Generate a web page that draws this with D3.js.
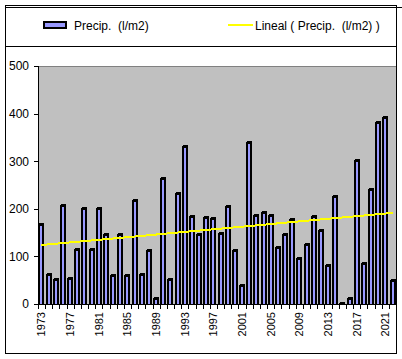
<!DOCTYPE html>
<html>
<head>
<meta charset="utf-8">
<script src="https://cdn.jsdelivr.net/npm/d3@7"></script>
<style>
  body { margin: 0; background: #fff; }
  svg { display: block; font-family: "Liberation Sans", Arial, sans-serif; }
</style>
</head>
<body>
<div id="container"></div>
<script>
/**
 * CONSTANTS AND GLOBALS
 * */
const width = 402,
  height = 359,
  plot = {left: 38, right: 396, top: 66, bottom: 304};

/**
 * DATA
 * */
const years = d3.range(1973, 2023);
const precip = [
  171, 66, 55, 210, 57, 117, 203, 117, 203, 149,
  64, 149, 64, 220, 66, 115, 15, 266, 54, 235,
  335, 186, 150, 184, 182, 151, 209, 115, 41, 342,
  190, 195, 190, 121, 150, 180, 98, 128, 186, 157,
  83, 228, 5, 14, 304, 88, 244, 384, 394, 52
];
const yTicks = [0, 100, 200, 300, 400, 500];
const seriesName = "Precip.  (l/m2)";
const trendName = "Lineal ( Precip.  (l/m2) )";

const data = years.map((y, i) => ({year: y, value: precip[i]}));

/**
 * SCALES
 * */
const x = d3.scaleBand()
  .domain(years)
  .range([plot.left, plot.right])
  .paddingInner(0.15)
  .paddingOuter(0.05);

const y = d3.scaleLinear()
  .domain([0, 500])
  .range([plot.bottom, plot.top]);

const svg = d3.select("#container")
  .append("svg")
  .attr("width", width)
  .attr("height", height);

// plot background
svg.append("rect")
  .attr("x", plot.left)
  .attr("y", plot.top)
  .attr("width", plot.right - plot.left)
  .attr("height", plot.bottom - plot.top)
  .attr("fill", "#c0c0c0");
svg.append("line")
  .attr("x1", plot.left).attr("x2", plot.right)
  .attr("y1", plot.top + 0.5).attr("y2", plot.top + 0.5)
  .attr("stroke", "#808080");

// bars (black body with a 1px step on top, lavender inside)
const bars = svg.append("g")
  .attr("shape-rendering", "crispEdges")
  .selectAll("g")
  .data(data)
  .join("g");

const bw = Math.round(x.bandwidth());

bars.append("rect")
  .attr("x", d => Math.round(x(d.year)) + 1)
  .attr("y", d => Math.round(y(d.value)))
  .attr("width", bw - 1)
  .attr("height", d => Math.max(0, plot.bottom - Math.round(y(d.value))))
  .attr("fill", "#000");

bars.append("rect")
  .attr("x", d => Math.round(x(d.year)))
  .attr("y", d => Math.round(y(d.value)) + 1)
  .attr("width", bw - 1)
  .attr("height", d => Math.max(0, plot.bottom - Math.round(y(d.value)) - 1))
  .attr("fill", "#000");

bars.append("rect")
  .attr("x", d => Math.round(x(d.year)) + 2)
  .attr("y", d => Math.round(y(d.value)) + 3)
  .attr("width", Math.max(1, bw - 4))
  .attr("height", d => Math.max(0, plot.bottom - Math.round(y(d.value)) - 3))
  .attr("fill", "#9999ff");

// linear trend (least squares over the series)
const n = data.length;
const mx = d3.mean(data, (d, i) => i);
const my = d3.mean(data, d => d.value);
const slope = d3.sum(data, (d, i) => (i - mx) * (d.value - my)) /
  d3.sum(data, (d, i) => (i - mx) * (i - mx));
const icpt = my - slope * mx;
const trend = [0, n - 1].map(i => ({year: years[i], value: icpt + slope * i}));

svg.append("path")
  .datum(trend)
  .attr("fill", "none")
  .attr("stroke", "#ffff00")
  .attr("stroke-width", 2)
  .attr("shape-rendering", "crispEdges")
  .attr("d", d3.line()
    .x(d => x(d.year) + x.bandwidth() / 2)
    .y(d => y(d.value)));

// y axis
const yAxis = svg.append("g")
  .attr("transform", `translate(${plot.left},0)`)
  .call(d3.axisLeft(y).tickValues(yTicks).tickSize(4).tickPadding(5))
  .attr("shape-rendering", "crispEdges");
yAxis.selectAll("text").attr("font-size", 12).attr("fill", "#000")
  .attr("font-family", "Liberation Sans, Arial, sans-serif");
yAxis.select(".domain").attr("stroke", "#000");

// x axis: a tick at every category boundary, label every 4th year
const xg = svg.append("g").attr("shape-rendering", "crispEdges");
xg.append("line")
  .attr("x1", plot.left).attr("x2", plot.right)
  .attr("y1", plot.bottom + 0.5).attr("y2", plot.bottom + 0.5)
  .attr("stroke", "#000");
xg.selectAll(".tk")
  .data(d3.range(years.length + 1))
  .join("line")
  .attr("class", "tk")
  .attr("x1", i => Math.round(plot.left + i * (plot.right - plot.left) / years.length) + 0.5)
  .attr("x2", i => Math.round(plot.left + i * (plot.right - plot.left) / years.length) + 0.5)
  .attr("y1", plot.bottom)
  .attr("y2", plot.bottom + 5)
  .attr("stroke", "#000");

xg.selectAll("text")
  .data(years.filter((d, i) => i % 4 === 0))
  .join("text")
  .attr("transform", d => `translate(${x(d) + x.bandwidth() / 2 + 4},${plot.bottom + 8}) rotate(-90)`)
  .attr("text-anchor", "end")
  .attr("font-size", 11)
  .attr("fill", "#000")
  .text(d => d);

// outer frame and legend box
const frame = svg.append("g")
  .attr("stroke", "#000")
  .attr("shape-rendering", "crispEdges");
frame.append("line").attr("x1", 5).attr("x2", 397).attr("y1", 5.5).attr("y2", 5.5);
frame.append("line").attr("x1", 5).attr("x2", 402).attr("y1", 7.5).attr("y2", 7.5);
frame.append("line").attr("x1", 5.5).attr("x2", 5.5).attr("y1", 5).attr("y2", 354);
frame.append("line").attr("x1", 396.5).attr("x2", 396.5).attr("y1", 5).attr("y2", 354);
frame.append("line").attr("x1", 5).attr("x2", 397).attr("y1", 353.5).attr("y2", 353.5);
frame.append("line").attr("x1", 5).attr("x2", 397).attr("y1", 46.5).attr("y2", 46.5);

// legend
const legend = svg.append("g");
legend.append("rect")
  .attr("x", 44).attr("y", 22)
  .attr("width", 22).attr("height", 6)
  .attr("fill", "#9999ff")
  .attr("stroke", "#000")
  .attr("stroke-width", 2);
legend.append("text")
  .attr("x", 74).attr("y", 30)
  .attr("font-size", 12)
  .style("white-space", "pre")
  .text(seriesName);
legend.append("line")
  .attr("x1", 228).attr("x2", 253)
  .attr("y1", 25).attr("y2", 25)
  .attr("stroke", "#ffff00")
  .attr("stroke-width", 2)
  .attr("shape-rendering", "crispEdges");
legend.append("text")
  .attr("x", 255).attr("y", 30)
  .attr("font-size", 12)
  .style("white-space", "pre")
  .text(trendName);
</script>
</body>
</html>
